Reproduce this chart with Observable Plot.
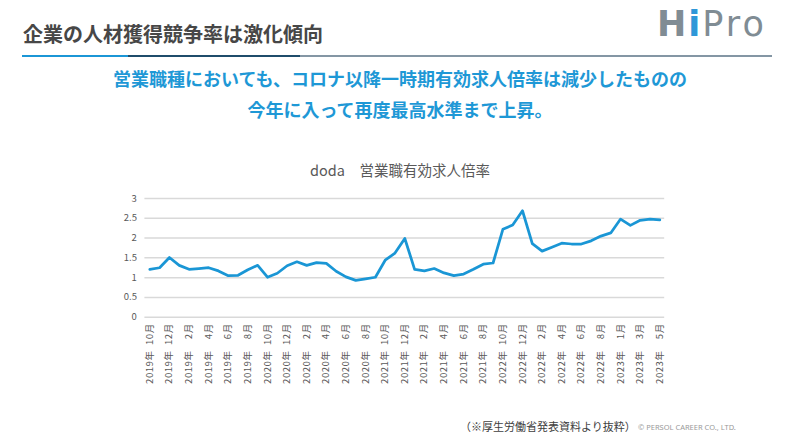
<!DOCTYPE html>
<html>
<head>
<meta charset="utf-8">
<script src="https://cdn.jsdelivr.net/npm/d3@7"></script>
<script src="https://cdn.jsdelivr.net/npm/@observablehq/plot@0.6"></script>
<style>
  html, body { margin: 0; padding: 0; background: #fff; }
  #page { position: relative; width: 791px; height: 448px; overflow: hidden; background: #fff;
          font-family: "Noto Sans CJK JP", "Noto Sans", sans-serif; }
  .abs { position: absolute; white-space: nowrap; }
  #title { left: 23px; top: 20px; font-size: 20px; font-weight: 700; color: #474747; line-height: 28px; }
  .bar { position: absolute; top: 55px; height: 2px; }
  #logo { left: 657px; top: 2px; font-family: "DejaVu Sans", sans-serif; font-size: 35px; line-height: 44px; color: #808c94; font-weight: 700; letter-spacing: 2px; }
  #logo .i { color: #2f97d8; }
  #logo .p { font-weight: 400; letter-spacing: 3px; }
  .sub { left: 0; width: 800px; text-align: center; font-size: 18px; font-weight: 700; color: #1e98d6; line-height: 26px; }
  #ctitle { left: 0; width: 800px; top: 160px; text-align: center; font-size: 14.5px; color: #595959; line-height: 20px; }
  #note { left: 460px; top: 418px; font-size: 11px; color: #404040; line-height: 16px; }
  #copy { left: 638px; top: 421px; font-size: 7.5px; color: #9a9a9a; line-height: 12px; font-family: "Noto Sans", sans-serif; }
  #chart { position: absolute; left: 0; top: 150px; }
  #chart g[aria-label="x-axis tick label"] text { letter-spacing: 0.6px; }
</style>
</head>
<body>
<div id="page">
  <div id="title" class="abs">企業の人材獲得競争率は激化傾向</div>
  <div class="bar" style="left:22px;width:106px;background:#1b96d6"></div>
  <div class="bar" style="left:128px;width:172px;background:#1f4c6b"></div>
  <div class="bar" style="left:300px;width:472px;background:#8496a4"></div>
  <div id="logo" class="abs">H<span class="i">i</span><span class="p">Pro</span></div>
  <div class="abs sub" style="top:65px">営業職種においても、コロナ以降一時期有効求人倍率は減少したものの</div>
  <div class="abs sub" style="top:96px">今年に入って再度最高水準まで上昇。</div>
  <div id="ctitle" class="abs">doda　営業職有効求人倍率</div>
  <div id="chart"></div>
  <div id="note" class="abs">（※厚生労働省発表資料より抜粋）</div>
  <div id="copy" class="abs">© PERSOL CAREER CO., LTD.</div>
</div>
<script>
// Monthly values (53 points)
const values = [
  1.21, 1.25, 1.51, 1.31, 1.21, 1.23, 1.25, 1.17, 1.05, 1.06,
  1.20, 1.31, 1.01, 1.11, 1.30, 1.40, 1.31, 1.38, 1.36, 1.16,
  1.02, 0.93, 0.97, 1.01, 1.44, 1.62, 1.99, 1.21, 1.17, 1.23,
  1.12, 1.05, 1.09, 1.21, 1.34, 1.37, 2.22, 2.33, 2.69, 1.86,
  1.67, 1.77, 1.87, 1.85, 1.85, 1.93, 2.05, 2.13, 2.48, 2.32,
  2.45, 2.48, 2.46
];
// Tick labels as printed (one every second point)
const tickYears = [2019,2019,2019,2019,2019,2019,2020,2020,2020,2020,2020,2020,2021,2021,2021,2021,2021,2021,2022,2022,2022,2022,2022,2022,2023,2023,2023];
const tickMonths = [10,12,2,4,6,8,10,12,2,4,6,8,10,12,2,4,6,8,10,12,2,4,6,8,1,3,5];
const yTicks = [0, 0.5, 1, 1.5, 2, 2.5, 3];

const data = values.map((v, i) => ({i, v}));
const tickIdx = tickYears.map((_, k) => k * 2);
const label = i => {
  const k = i / 2;
  const m = String(tickMonths[k]);
  return `${tickYears[k]}年\u2002${m.length < 2 ? "\u2007" + m : m}月`;
};

const chart = Plot.plot({
  width: 791,
  height: 250,
  marginLeft: 144.4,
  marginRight: 126.8,
  marginTop: 48,
  marginBottom: 83.3,
  style: {fontFamily: "'Noto Sans CJK JP', sans-serif", fontSize: "9.5px", color: "#595959", background: "transparent"},
  x: {type: "point", domain: d3.range(values.length), padding: 0.5},
  y: {domain: [0, 3]},
  marks: [
    Plot.ruleY(yTicks, {stroke: "#d9d9d9", strokeWidth: 1.5}),
    Plot.axisY({ticks: yTicks, tickSize: 0, tickPadding: 8, tickFormat: d => String(d), label: null}),
    Plot.axisX({ticks: tickIdx, tickFormat: label, tickRotate: -90, tickSize: 0, tickPadding: 6, label: null}),
    Plot.line(data, {x: "i", y: "v", stroke: "#1a96d5", strokeWidth: 2.75, strokeLinejoin: "round", strokeLinecap: "round"})
  ]
});
document.getElementById("chart").appendChild(chart);
</script>
</body>
</html>
